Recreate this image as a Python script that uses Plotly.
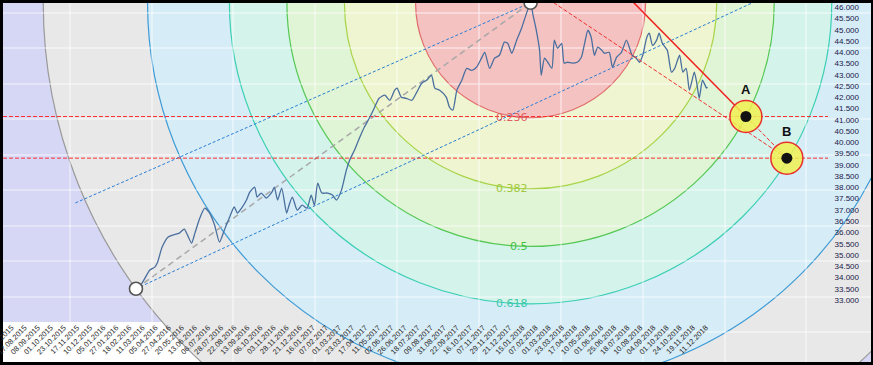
import math
import plotly.graph_objects as go

# ---------------- data ----------------
tick_labels = [
    "24.07.2015", "17.08.2015", "08.09.2015", "01.10.2015", "23.10.2015", "17.11.2015", "10.12.2015",
    "05.01.2016", "27.01.2016", "18.02.2016", "11.03.2016", "05.04.2016", "27.04.2016", "20.05.2016",
    "13.06.2016", "06.07.2016", "28.07.2016", "22.08.2016", "13.09.2016", "06.10.2016", "03.11.2016",
    "28.11.2016", "21.12.2016", "16.01.2017", "07.02.2017", "01.03.2017", "23.03.2017", "17.04.2017",
    "11.05.2017", "02.06.2017", "26.06.2017", "18.07.2017", "09.08.2017", "31.08.2017", "22.09.2017",
    "16.10.2017", "07.11.2017", "29.11.2017", "21.12.2017", "15.01.2018", "07.02.2018", "01.03.2018",
    "23.03.2018", "17.04.2018", "10.05.2018", "01.06.2018", "25.06.2018", "18.07.2018", "10.08.2018",
    "04.09.2018", "01.10.2018", "24.10.2018", "19.11.2018", "11.12.2018",
]
bars_per_label = 16
tick_bars = [bars_per_label * k for k in range(len(tick_labels))]

price_tick_vals = [33.0, 33.5, 34.0, 34.5, 35.0, 35.5, 36.0, 36.5, 37.0, 37.5, 38.0, 38.5, 39.0,
                   39.5, 40.0, 40.5, 41.0, 41.5, 42.0, 42.5, 43.0, 43.5, 44.0, 44.5, 45.0, 45.5, 46.0]

price_bars = [
    152, 158, 169, 175, 178, 184, 191, 197, 205, 211, 215, 220, 224, 230, 236, 242, 248, 254, 260, 266,
    272, 276, 281, 287, 291, 297, 300, 305, 311, 318, 321, 325, 330, 336, 339, 343, 349, 355, 361, 366,
    370, 374, 379, 386, 392, 397, 403, 409, 413, 419, 425, 431, 437, 443, 449, 456, 462, 468, 471, 476,
    482, 489, 495, 501, 507, 513, 517, 523, 531, 535, 539, 544, 550, 556, 562, 568, 574, 578, 584, 590,
    596, 602, 606, 611, 617, 623, 629, 634, 637, 641, 645, 647, 651, 655, 660, 663, 667, 672, 675, 679,
    685, 691, 696, 700, 704, 708, 712, 716, 721, 724, 730, 734, 739, 745, 751, 755, 758, 763, 767, 771,
    776, 779, 783, 788, 791, 795, 801, 806, 810, 816, 820, 824, 828, 834, 837, 840, 844, 849, 850,
]
price_vals = [
    33.50, 33.67, 34.33, 34.46, 34.64, 35.35, 35.79, 35.88, 35.97, 36.15, 35.88, 35.53, 35.97, 36.64,
    37.08, 36.86, 36.33, 35.57, 36.11, 36.64, 37.13, 36.86, 37.08, 37.44, 37.79, 38.01, 37.57, 37.75,
    37.53, 37.79, 38.01, 37.44, 37.97, 36.86, 37.21, 37.57, 36.99, 37.21, 37.08, 37.66, 37.21, 38.19,
    37.75, 37.75, 37.66, 37.44, 37.88, 38.77, 39.21, 39.66, 40.19, 40.68, 41.07, 41.52, 41.96, 42.10,
    41.87, 42.32, 42.41, 42.01, 41.96, 41.87, 42.23, 42.63, 42.76, 42.98, 42.41, 42.32, 42.01, 41.56,
    41.43, 42.32, 42.76, 43.29, 43.20, 43.34, 43.74, 44.00, 43.29, 43.74, 43.87, 44.45, 44.40, 43.96,
    44.54, 45.07, 45.73, 46.20, 45.65, 44.98, 44.09, 42.98, 43.74, 43.56, 43.29, 44.54, 44.18, 44.40,
    43.52, 43.56, 43.52, 43.56, 43.78, 44.40, 44.98, 44.67, 43.87, 44.23, 44.09, 43.96, 44.00, 43.34,
    43.78, 44.00, 44.54, 44.18, 43.87, 43.74, 43.56, 43.87, 44.67, 44.85, 44.31, 44.54, 44.85, 44.40,
    44.09, 43.12, 43.29, 43.87, 43.12, 43.29, 42.32, 43.12, 42.63, 41.96, 42.76, 42.41, 42.45,
]

low_pivot_bar, low_pivot_val = 152, 33.50
high_pivot_bar, high_pivot_val = 634, 46.20

upper_channel_bars = [78, 634]
upper_channel_vals = [37.31, 46.20]
lower_channel_bars = [152, 912]
lower_channel_vals = [33.50, 46.32]

point_a_bar, point_a_val = 897, 41.15
point_b_bar, point_b_val = 947, 39.30

red_solid_bars = [752, 897]
red_solid_vals = [46.50, 41.15]
red_ab_bars = [897, 947]
red_ab_vals = [41.15, 39.30]
red_dash_bars = [650, 947]
red_dash_vals = [46.50, 39.30]

fib_levels = [1.0, 0.786, 0.618, 0.5, 0.382, 0.236]
fib_labels = {0.236: "0.236", 0.382: "0.382", 0.5: "0.5", 0.618: "0.618"}

# ---------------- style / geometry ----------------
W, H = 873, 365
ML, MR, MT, MB = 3, 2, 3, 3
PW, PH = W - ML - MR, H - MT - MB
X_RANGE = [-10.4, 1049.8]
Y_RANGE = [30.246, 46.191]

ring_fill = {1.0: "#e8e8e8", 0.786: "#d6ecf7", 0.618: "#d4f3ea", 0.5: "#e0f4d6",
             0.382: "#eef5d0", 0.236: "#f5c2c2"}
ring_line = {1.0: "#9a9a9a", 0.786: "#3d9bd6", 0.618: "#3ccfb4", 0.5: "#55c855",
             0.382: "#a8d448", 0.236: "#e06b6b"}
label_color = {0.236: "#e06060", 0.382: "#a0c83c", 0.5: "#44c044", 0.618: "#3cc8a8"}


def to_px(b, v):
    px = ML + (b - X_RANGE[0]) / (X_RANGE[1] - X_RANGE[0]) * PW
    py = MT + (Y_RANGE[1] - v) / (Y_RANGE[1] - Y_RANGE[0]) * PH
    return px, py


def from_px(px, py):
    b = X_RANGE[0] + (px - ML) / PW * (X_RANGE[1] - X_RANGE[0])
    v = Y_RANGE[1] - (py - MT) / PH * (Y_RANGE[1] - Y_RANGE[0])
    return b, v


fig = go.Figure()

# Fibonacci circles (screen-space circles around the high pivot)
cx, cy = to_px(high_pivot_bar, high_pivot_val)
lx, ly = to_px(low_pivot_bar, low_pivot_val)
base_r = math.hypot(cx - lx, cy - ly)
shapes = []
annotations = []
for lvl in fib_levels:
    r = lvl * base_r
    x0, y0 = from_px(cx - r, cy + r)
    x1, y1 = from_px(cx + r, cy - r)
    shapes.append(dict(type="circle", xref="x", yref="y", x0=x0, x1=x1, y0=y0, y1=y1,
                       fillcolor=ring_fill[lvl], line=dict(color=ring_line[lvl], width=1.2),
                       layer="below"))
    if lvl in fib_labels:
        _, yb = from_px(cx, cy + r)
        annotations.append(dict(x=high_pivot_bar, y=yb, xref="x", yref="y", text=fib_labels[lvl],
                                showarrow=False, xanchor="right", yanchor="middle", xshift=-1,
                                font=dict(family="DejaVu Sans", size=11, color=label_color[lvl])))

# white label boxes
shapes.append(dict(type="rect", xref="paper", yref="paper", x0=0, x1=(732 - ML) / PW,
                   y0=0, y1=(H - MB - 322) / PH, fillcolor="white", line=dict(width=0), layer="between"))
shapes.append(dict(type="rect", xref="paper", yref="paper", x0=(828 - ML) / PW, x1=1,
                   y0=(H - MB - 307) / PH, y1=1, fillcolor="white", line=dict(width=0), layer="between"))

# channel lines
fig.add_trace(go.Scatter(x=upper_channel_bars, y=upper_channel_vals, mode="lines",
                         line=dict(color="#2a7fd4", width=1, dash="3px,2px"), hoverinfo="skip"))
fig.add_trace(go.Scatter(x=lower_channel_bars, y=lower_channel_vals, mode="lines",
                         line=dict(color="#2a7fd4", width=1, dash="3px,2px"), hoverinfo="skip"))
fig.add_trace(go.Scatter(x=[low_pivot_bar, high_pivot_bar], y=[low_pivot_val, high_pivot_val],
                         mode="lines", line=dict(color="#a8a8a8", width=1.5, dash="6px,4px"),
                         hoverinfo="skip"))

# horizontal red lines through A and B
for v in (point_a_val, point_b_val):
    fig.add_trace(go.Scatter(x=[X_RANGE[0], from_px(828, 0)[0]], y=[v, v], mode="lines",
                             line=dict(color="#ff3030", width=1, dash="4px,2px"), hoverinfo="skip"))

# price
fig.add_trace(go.Scatter(x=price_bars, y=price_vals, mode="lines",
                         line=dict(color="#4a6f9e", width=1.3, shape="spline", smoothing=0.6),
                         hoverinfo="skip"))

# red projection lines
fig.add_trace(go.Scatter(x=red_solid_bars, y=red_solid_vals, mode="lines",
                         line=dict(color="#f02020", width=1.5), hoverinfo="skip"))
fig.add_trace(go.Scatter(x=red_ab_bars, y=red_ab_vals, mode="lines",
                         line=dict(color="#f03030", width=1, dash="4px,2px"), hoverinfo="skip"))
fig.add_trace(go.Scatter(x=red_dash_bars, y=red_dash_vals, mode="lines",
                         line=dict(color="#f03030", width=1, dash="4px,2px"), hoverinfo="skip"))

# pivots
fig.add_trace(go.Scatter(x=[low_pivot_bar, high_pivot_bar], y=[low_pivot_val, high_pivot_val],
                         mode="markers", marker=dict(size=13, color="white",
                                                     line=dict(color="#555555", width=1.6)),
                         hoverinfo="skip"))

# A / B targets
fig.add_trace(go.Scatter(x=[point_a_bar, point_b_bar], y=[point_a_val, point_b_val], mode="markers",
                         marker=dict(size=32, color="rgba(240,240,80,0.85)",
                                     line=dict(color="#e83030", width=1.5)), hoverinfo="skip"))
fig.add_trace(go.Scatter(x=[point_a_bar, point_b_bar], y=[point_a_val, point_b_val], mode="markers",
                         marker=dict(size=11, color="#111111"), hoverinfo="skip"))
for b, v, t in ((point_a_bar, point_a_val, "A"), (point_b_bar, point_b_val, "B")):
    annotations.append(dict(x=b, y=v, xref="x", yref="y", text="<b>" + t + "</b>", showarrow=False,
                            yshift=27, font=dict(family="Liberation Sans", size=13, color="#111111"),
                            xanchor="center", yanchor="middle"))

fig.update_layout(
    width=W, height=H, template="none", showlegend=False,
    margin=dict(l=ML, r=MR, t=MT, b=MB, pad=0),
    paper_bgcolor="#000000", plot_bgcolor="#d6d6f5",
    shapes=shapes, annotations=annotations,
    xaxis=dict(range=X_RANGE, anchor="free", position=(H - MB - 321) / PH, automargin=False,
               tickmode="array", tickvals=tick_bars, ticktext=tick_labels, tickangle=-45,
               ticklabeloverflow="allow",
               showgrid=False, zeroline=False, showline=False, ticks="",
               tickfont=dict(family="Liberation Sans", size=7.5, color="#2a2a2a"),
               minor=dict(tickmode="linear", tick0=71, dtick=100, showgrid=True,
                          gridcolor="rgba(255,255,255,0.38)", gridwidth=2, ticks="")),
    yaxis=dict(range=Y_RANGE, side="right", anchor="free", position=(862 - ML) / PW, automargin=False,
               tickmode="array", tickvals=price_tick_vals,
               ticktext=[f"{v:.3f}" for v in price_tick_vals], ticklabelposition="inside",
               ticklabeloverflow="allow",
               showgrid=False, zeroline=False, showline=False, ticks="",
               tickfont=dict(family="Liberation Sans", size=8, color="#202048"),
               minor=dict(tickmode="linear", tick0=45.75, dtick=1.577, showgrid=True,
                          gridcolor="rgba(255,255,255,0.38)", gridwidth=2, ticks="")),
)

fig.write_html("out.html", config={"displayModeBar": False},
               post_script="document.body.style.margin='0px';document.body.style.overflow='hidden';")
